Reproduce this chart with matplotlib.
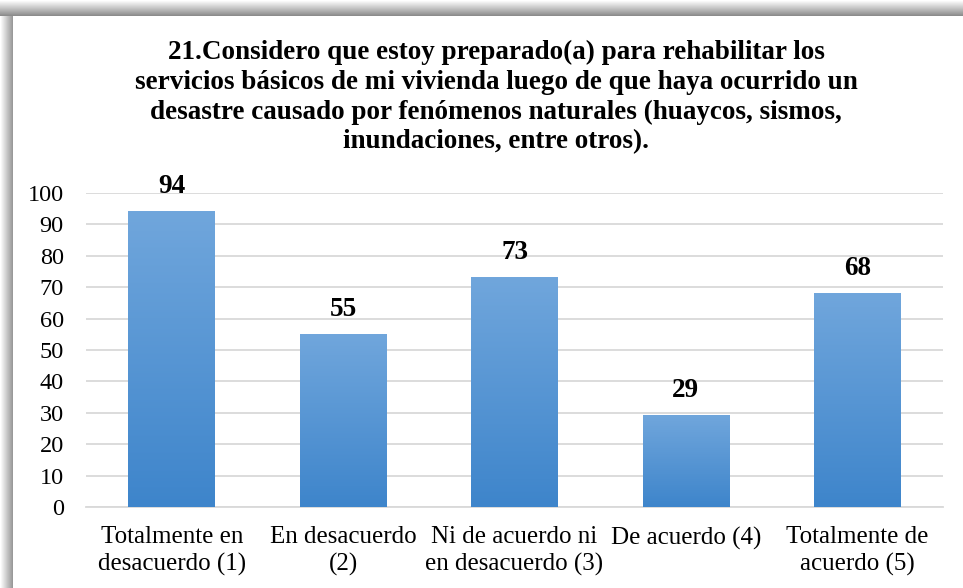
import numpy as np
import matplotlib
matplotlib.use("Agg")
import matplotlib.pyplot as plt

plt.rcParams['font.family'] = ['Liberation Serif', 'DejaVu Serif']

categorias = ["Totalmente en\ndesacuerdo (1)", "En desacuerdo\n(2)",
              "Ni de acuerdo ni\nen desacuerdo (3)", "De acuerdo (4)",
              "Totalmente de\nacuerdo (5)"]
valores = [94, 55, 73, 29, 68]
titulo = ("21.Considero que estoy preparado(a) para rehabilitar los\n"
          "servicios básicos de mi vivienda luego de que haya ocurrido un\n"
          "desastre causado por fenómenos naturales (huaycos, sismos,\n"
          "inundaciones, entre otros).")

W, H = 963, 588
fig = plt.figure(figsize=(W / 100, H / 100), dpi=100)

# fondo con sombra (arriba e izquierda)
bg = fig.add_axes([0, 0, 1, 1])
bg.set_xlim(0, W)
bg.set_ylim(H, 0)
bg.axis("off")
sombra_top = np.linspace(1.0, 0.55, 16).reshape(-1, 1)
bg.imshow(np.repeat(sombra_top, 2, axis=1), cmap="gray", vmin=0, vmax=1,
          extent=[0, W, 16, 0], aspect="auto")
sombra_izq = np.linspace(1.0, 0.6, 13).reshape(1, -1)
bg.imshow(np.repeat(sombra_izq, 2, axis=0), cmap="gray", vmin=0, vmax=1,
          extent=[0, 13, H, 16], aspect="auto")
bg.add_patch(plt.Rectangle((13, 16), W, H, facecolor="white", edgecolor="none"))

fig.text(0.515, 1 - 40 / H, titulo, ha="center", va="top", fontsize=19.5,
         fontweight="bold", linespacing=1.25)

ax = fig.add_axes([86 / W, 1 - 507 / H, (943 - 86) / W, (507 - 193) / H])
ax.set_facecolor("none")
x = np.arange(len(valores))
ancho = 0.505

grad = np.linspace(0, 1, 100).reshape(-1, 1)
cmap = matplotlib.colors.LinearSegmentedColormap.from_list("azul", ["#3e85cb", "#70a6dc"])
barras = ax.bar(x, valores, width=ancho, color="#5a97d6", zorder=2)
for b in barras:
    x0, y0 = b.get_x(), b.get_y()
    ax.imshow(grad, cmap=cmap, origin="lower", aspect="auto", zorder=3,
              extent=[x0, x0 + b.get_width(), y0, y0 + b.get_height()])
    ax.annotate(f"{int(b.get_height())}", (x0 + b.get_width() / 2, b.get_height()),
                xytext=(0, 9), textcoords="offset points", ha="center", va="bottom",
                fontsize=19.5, fontweight="bold")
ax.set_xlim(-0.5, len(valores) - 0.5)
ax.set_ylim(0, 100)

ax.set_yticks(range(0, 101, 10))
ax.set_xticks(x)
ax.set_xticklabels(categorias, fontsize=18, linespacing=1.25)
ax.tick_params(axis="y", labelsize=17.5, length=0, pad=16)
ax.tick_params(axis="x", length=0, pad=14)
ax.grid(axis="y", color="#d9d9d9", linewidth=1.3, zorder=0)
for s in ["top", "right", "left"]:
    ax.spines[s].set_visible(False)
ax.spines["bottom"].set_color("#d9d9d9")
ax.spines["bottom"].set_linewidth(1.3)

fig.savefig("out.png", dpi=100)
